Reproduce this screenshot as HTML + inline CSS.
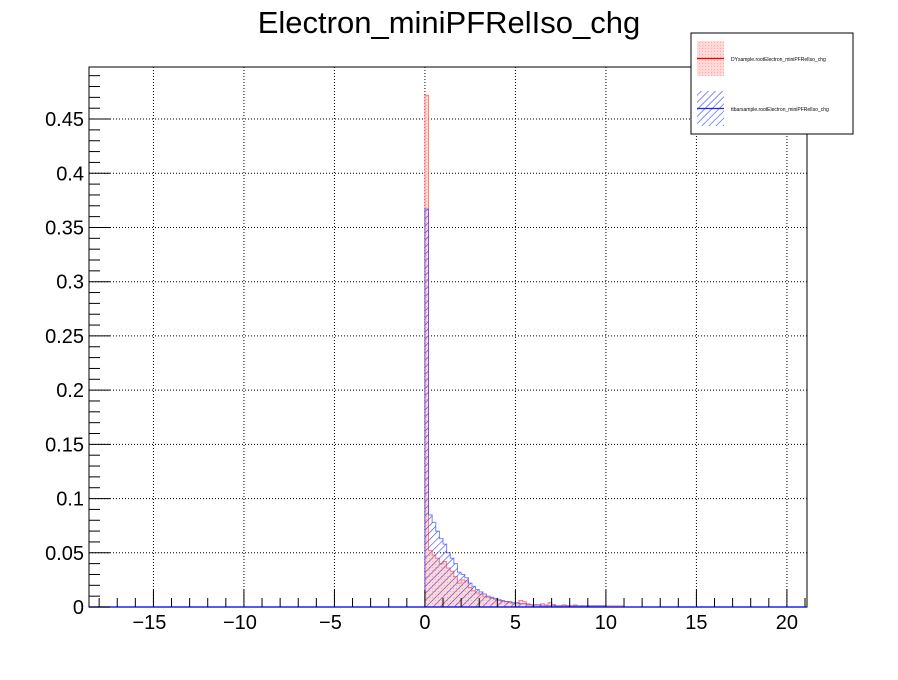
<!DOCTYPE html>
<html><head><meta charset="utf-8"><style>
body{margin:0;background:#fff;}
svg text{font-family:"Liberation Sans",sans-serif;}
</style></head><body>
<svg id="c" width="898" height="675" xmlns="http://www.w3.org/2000/svg">
<defs>
<pattern id="hatchB" width="5" height="5" patternUnits="userSpaceOnUse" patternTransform="rotate(45)"><line x1="0" y1="0" x2="0" y2="5" stroke="#3344ee" stroke-width="1.2"/></pattern>
<pattern id="dotR" width="3" height="3" patternUnits="userSpaceOnUse"><rect width="3" height="3" fill="#ffd8d8"/><rect width="1" height="1" fill="#ffaaaa"/></pattern>
</defs>
<text x="449" y="33" font-size="31" text-anchor="middle">Electron_miniPFRelIso_chg</text>
<g id="plot"></g>
<g>
<rect x="691" y="33" width="162" height="101" fill="#fff" stroke="#000" stroke-width="1"/>
<rect x="697" y="41" width="27" height="35" fill="url(#dotR)"/>
<line x1="697" y1="58.5" x2="724" y2="58.5" stroke="#e00" stroke-width="1.3"/>
<text x="731" y="61" font-size="5">DYsample.rootElectron_miniPFRelIso_chg</text>
<rect x="697" y="91" width="27" height="35" fill="url(#hatchB)"/>
<line x1="697" y1="108.5" x2="724" y2="108.5" stroke="#22e" stroke-width="1.3"/>
<text x="731" y="111" font-size="5">ttbarsample.rootElectron_miniPFRelIso_chg</text>
</g>
</svg>
<script>
const binWidth = 0.2;
const binStart = 0;
const dyValues = [0.472,0.052,0.048,0.045,0.040,0.042,0.036,0.033,0.028,0.022,0.025,0.024,0.018,0.015,0.013,0.012,0.010,0.009,0.008,0.007,0.006,0.005,0.005,0.004,0.003,0.003,0.006,0.005,0.003,0.002,0.002,0.002,0.003,0.002,0.004,0.002,0.001,0.001,0.002,0.001,0.001,0.002,0.001,0.001,0.001,0.001,0.001,0.001,0.001,0.001,0.001,0.001,0.001,0.001,0.001,0,0,0,0,0];
const ttValues = [0.367,0.085,0.078,0.070,0.063,0.058,0.050,0.045,0.040,0.032,0.030,0.027,0.022,0.019,0.016,0.014,0.012,0.010,0.009,0.008,0.007,0.006,0.005,0.005,0.004,0.004,0.003,0.003,0.002,0.002,0.002,0.002,0.001,0.001,0.001,0.002,0.001,0.001,0.001,0.001,0.001,0.001,0.001,0.001,0.001,0.001,0.001,0.001,0.001,0.001,0,0,0,0,0,0,0,0,0,0];
const xTicks = [-15,-10,-5,0,5,10,15,20];
const yTicks = [0,0.05,0.1,0.15,0.2,0.25,0.3,0.35,0.4,0.45];
const yTickLabels = ["0","0.05","0.1","0.15","0.2","0.25","0.3","0.35","0.4","0.45"];

const L=89,R=807,T=67,B=607;
const xMin=-18.56,xMax=21.11,yMin=0,yMax=0.498;
const sx=v=>L+(v-xMin)/(xMax-xMin)*(R-L);
const sy=v=>B-(v-yMin)/(yMax-yMin)*(B-T);
const NS="http://www.w3.org/2000/svg";
const g=document.getElementById('plot');
function mk(t,a,p){const e=document.createElementNS(NS,t);for(const k in a)e.setAttribute(k,a[k]);(p||g).appendChild(e);return e;}

xTicks.forEach(v=>{const e=mk('line',{x1:sx(v),x2:sx(v),y1:T,y2:B,stroke:'#000','stroke-width':1,'stroke-dasharray':'1,2'});

});
yTicks.forEach(v=>{if(v===0)return;const e=mk('line',{x1:L,x2:R,y1:sy(v),y2:sy(v),stroke:'#000','stroke-width':1,'stroke-dasharray':'1,2'});

});

function hist(vals,fill,stroke,name){
  let d=`M${sx(binStart)},${sy(0)}`;
  vals.forEach((v,i)=>{const x0=sx(binStart+i*binWidth),x1=sx(binStart+(i+1)*binWidth);d+=` L${x0},${sy(v)} L${x1},${sy(v)}`;});
  d+=` L${sx(binStart+vals.length*binWidth)},${sy(0)} Z`;
  const p=mk('path',{d:d,fill:fill,stroke:stroke,'stroke-width':1,'stroke-opacity':0.6});
  
  
}
hist(dyValues,'url(#dotR)','#ff3333','dy-histogram');
hist(ttValues,'url(#hatchB)','#2233ff','ttbar-histogram');

const f=mk('rect',{x:L,y:T,width:R-L,height:B-T,fill:'none',stroke:'#000','stroke-width':1});


mk('line',{x1:L,x2:R,y1:B,y2:B,stroke:'#22e','stroke-width':1.5});

for(let v=-18;v<=21;v++){const maj=v%5===0;mk('line',{x1:sx(v),x2:sx(v),y1:B,y2:B-(maj?17:9),stroke:'#000','stroke-width':1});}
xTicks.forEach(v=>{const t=mk('text',{x:sx(v)+(v<0?-4:0),y:B+22,'font-size':20,'text-anchor':'middle'});t.textContent=(v<0?'\u2212'+(-v):v);

});
for(let i=0;i<=49;i++){const v=i*0.01;const maj=i%5===0;mk('line',{x1:L,x2:L+(maj?21:11),y1:sy(v),y2:sy(v),stroke:'#000','stroke-width':1});}
yTicks.forEach((v,i)=>{const t=mk('text',{x:L-5,y:sy(v)+7,'font-size':20,'text-anchor':'end'});t.textContent=yTickLabels[i];

});
</script>
</body></html>
